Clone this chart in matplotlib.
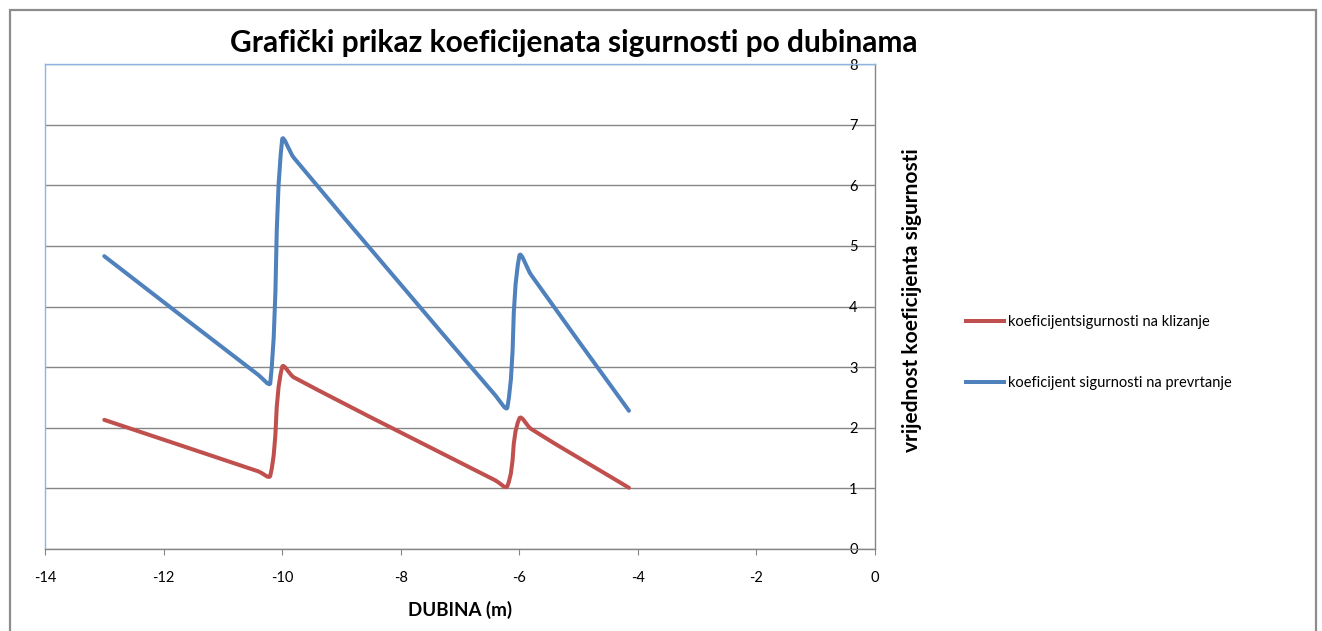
import numpy as np
import matplotlib
matplotlib.use("Agg")
import matplotlib.pyplot as plt
from matplotlib.path import Path
from matplotlib.patches import PathPatch, Rectangle
from matplotlib.lines import Line2D

plt.rcParams['font.family'] = ['Lato', 'DejaVu Sans']

# Depth stations (m) and safety factors
dubina = [-13.0, -10.4, -10.2, -10.0, -9.8, -6.4, -6.2, -6.0, -5.8, -4.15]
klizanje = [2.13, 1.28, 1.21, 3.00, 2.83, 1.13, 1.04, 2.15, 1.98, 1.01]
prevrtanje = [4.83, 2.87, 2.74, 6.75, 6.45, 2.53, 2.34, 4.83, 4.52, 2.28]

serije = ["koeficijentsigurnosti na klizanje", "koeficijent sigurnosti na prevrtanje"]
boje = ["#C0504D", "#4F81BD"]

x_ticks = [-14, -12, -10, -8, -6, -4, -2, 0]
y_ticks = [0, 1, 2, 3, 4, 5, 6, 7, 8]

naslov = "Grafički prikaz koeficijenata sigurnosti po dubinama"
x_naziv = "DUBINA (m)"
y_naziv = "vrijednost koeficijenta sigurnosti"


def smooth_path(x, y):
    """Smoothed line through the points, tangent-based cubic Bezier segments."""
    p = np.column_stack([x, y]).astype(float)
    n = len(p)
    tang = np.zeros_like(p)
    for i in range(n):
        a = p[max(i - 1, 0)]
        b = p[min(i + 1, n - 1)]
        d = b - a
        tang[i] = d / np.hypot(*d)
    verts = [p[0]]
    codes = [Path.MOVETO]
    for i in range(n - 1):
        L = np.hypot(*(p[i + 1] - p[i]))
        c1 = p[i] + tang[i] * L / 3
        c2 = p[i + 1] - tang[i + 1] * L / 3
        verts += [c1, c2, p[i + 1]]
        codes += [Path.CURVE4] * 3
    return Path(verts, codes)


W, H = 1322, 631
fig = plt.figure(figsize=(W / 100, H / 100), dpi=100)
ax = fig.add_axes([45 / W, 82 / H, 830 / W, 485 / H])

for yv, boja in zip([klizanje, prevrtanje], boje):
    ax.add_patch(PathPatch(smooth_path(dubina, yv), fill=False, edgecolor=boja,
                           lw=2.9, capstyle='round', joinstyle='round', zorder=3))

ax.set_xlim(-14, 0)
ax.set_ylim(0, 8)
ax.set_xticks(x_ticks)
ax.set_yticks(y_ticks)
ax.set_xticklabels([str(v) for v in x_ticks])
ax.set_yticklabels([str(v) for v in y_ticks])

ax.grid(axis='y', color='#868686', lw=1.0)
ax.set_axisbelow(True)

ax.spines['left'].set_color('#8EB4E3')
ax.spines['top'].set_color('#8EB4E3')
ax.spines['right'].set_color('#868686')
ax.spines['bottom'].set_color('#868686')
for s in ax.spines.values():
    s.set_linewidth(1.0)

ax.tick_params(axis='x', direction='out', length=4, color='#868686', labelsize=10.5, pad=12)
ax.tick_params(axis='y', left=False, right=False, labelleft=False, labelright=True,
               labelsize=10.5, pad=-19)
for t in ax.get_yticklabels():
    t.set_horizontalalignment('center')

ax.set_xlabel(x_naziv, fontsize=13.5, fontweight='bold', labelpad=11)
ax.yaxis.set_label_position('right')
ax.set_ylabel(y_naziv, fontsize=15, fontweight='bold')
ax.yaxis.set_label_coords(1.033, 0.513)

fig.text(574 / W, 1 - 43 / H, naslov, ha='center', va='center', fontsize=21.5, fontweight='bold')

handles = [Line2D([], [], color=c, lw=2.9) for c in boje]
fig.legend(handles, serije, loc='center left', bbox_to_anchor=(966 / W, 1 - 352.5 / H),
           frameon=False, fontsize=10.5, handlelength=2.6, handletextpad=0.25,
           labelspacing=3.2, borderpad=0, borderaxespad=0)

fig.add_artist(Rectangle((10 / W, -0.02), 1306 / W, 1 - 10 / H + 0.02,
                         transform=fig.transFigure, fill=False,
                         edgecolor='#8C8C8C', lw=1.6))

fig.savefig("out.png", dpi=100)
